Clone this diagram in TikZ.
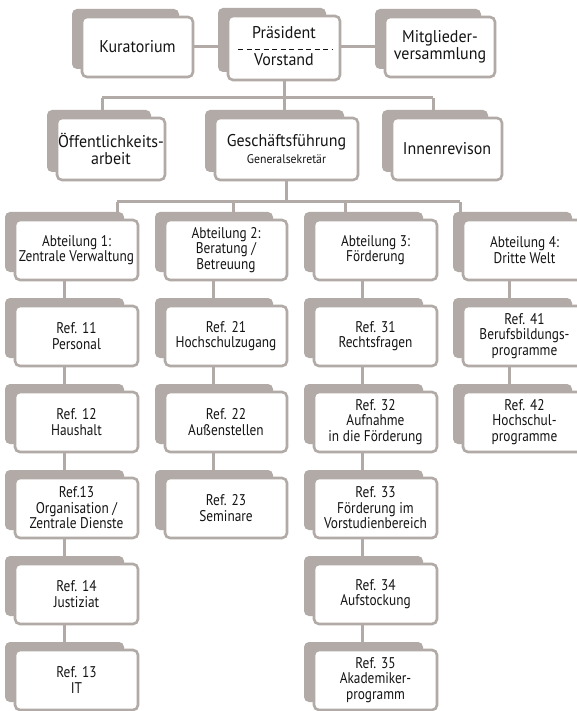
\documentclass[tikz,border=0pt]{standalone}
\usepackage{fontspec}
\setmainfont{PT Sans}
\newfontfamily\condf{PT Sans}[FakeStretch=0.86]
\newfontfamily\widef{PT Sans}[FakeStretch=0.94]
\usetikzlibrary{calc}
\definecolor{bx}{RGB}{177,170,166}
\definecolor{tx}{RGB}{20,20,20}
\pgfdeclarelayer{back}\pgfdeclarelayer{bg}\pgfsetlayers{back,bg,main}
\newcommand\lowfont{\condf\fontsize{15.5}{15.5}\selectfont}
\newcommand\topfont{\widef\fontsize{17}{17.5}\selectfont}
\newcommand\obox[7]{%
  \pgfmathsetmacro\obw{#4-#2}\pgfmathsetmacro\obh{#5-#3}%
  \pgfmathsetmacro\ocx{(#2+#4)/2}\pgfmathsetmacro\ocy{(#3+#5)/2}%
  \fill[bx,rounded corners=5pt] (#2-10,#3-8) rectangle (#4-14,#5-8);
  \node[wbox,minimum width=\obw pt,minimum height=\obh pt,font=#6] (#1) at (\ocx,\ocy) {#7};
}
\begin{document}
\begin{tikzpicture}[x=1pt,y=-1pt,
  wbox/.style={draw=bx,line width=2.6pt,fill=white,rounded corners=5pt,inner sep=0pt,align=center,text=tx},
  conn/.style={draw=bx,line width=3pt}]
\begin{pgfonlayer}{back}
\fill[white] (0,0) rectangle (577,711);
\end{pgfonlayer}
\begin{scope}[overlay]
% top row
\obox{kur}{82}{17}{193}{77}{\topfont}{Kuratorium}
\obox{pra}{228}{16}{340}{80}{\topfont}{}
\node[font=\topfont,text=tx,anchor=base] (praT) at (284,39) {Präsident};
\node[font=\topfont,text=tx,anchor=base] (praB) at (284,66) {Vorstand};
\coordinate (dashL) at (238,49);
\coordinate (dashR) at (333,49);
\draw[tx,line width=0.9pt,dash pattern=on 5pt off 3.5pt] (dashL) -- (dashR);
\obox{mit}{385}{17}{495}{77}{\topfont}{Mitglieder-\\versammlung}
% second row
\obox{oef}{57}{118}{165}{180}{\topfont}{Öffentlichkeits-\\arbeit}
\obox{ges}{215}{118}{358}{180}{\topfont}{Geschäftsführung\\[-1pt]{\widef\fontsize{12.5}{14}\selectfont Generalsekretär}}
\obox{inn}{392}{118}{502}{180}{\topfont}{Innenrevison}
% column 1
\obox{a1}{15}{220}{138}{280}{\lowfont}{Abteilung 1:\\Zentrale Verwaltung}
\obox{r11}{15}{306}{138}{366}{\lowfont}{Ref. 11\\Personal}
\obox{r12}{15}{392}{138}{452}{\lowfont}{Ref. 12\\Haushalt}
\obox{r13}{15}{478}{138}{538}{\lowfont}{Ref.13\\Organisation /\\Zentrale Dienste}
\obox{r14}{15}{564}{138}{624}{\lowfont}{Ref. 14\\Justiziat}
\obox{r15}{15}{650}{138}{710}{\lowfont}{Ref. 13\\IT}
% column 2
\obox{a2}{165}{220}{287}{280}{\lowfont}{Abteilung 2:\\Beratung /\\Betreuung}
\obox{r21}{165}{306}{287}{366}{\lowfont}{Ref. 21\\Hochschulzugang}
\obox{r22}{165}{392}{287}{452}{\lowfont}{Ref. 22\\Außenstellen}
\obox{r23}{165}{478}{287}{538}{\lowfont}{Ref. 23\\Seminare}
% column 3
\obox{a3}{314}{220}{437}{280}{\lowfont}{Abteilung 3:\\Förderung}
\obox{r31}{314}{306}{437}{366}{\lowfont}{Ref. 31\\Rechtsfragen}
\obox{r32}{314}{392}{437}{452}{\lowfont}{Ref. 32\\Aufnahme\\in die Förderung}
\obox{r33}{314}{478}{437}{538}{\lowfont}{Ref. 33\\Förderung im\\Vorstudienbereich}
\obox{r34}{314}{564}{437}{624}{\lowfont}{Ref. 34\\Aufstockung}
\obox{r35}{314}{650}{437}{710}{\lowfont}{Ref. 35\\Akademiker-\\programm}
% column 4
\obox{a4}{463}{220}{586}{280}{\lowfont}{Abteilung 4:\\Dritte Welt}
\obox{r41}{463}{306}{586}{366}{\lowfont}{Ref. 41\\Berufsbildungs-\\programme}
\obox{r42}{463}{392}{586}{452}{\lowfont}{Ref. 42\\Hochschul-\\programme}
% connectors
\begin{pgfonlayer}{bg}
\coordinate (h1a) at (102,98);
\coordinate (h1b) at (433,98);
\coordinate (h2a) at (117,202);
\coordinate (h2b) at (233,202);
\coordinate (h2c) at (345,202);
\coordinate (h2d) at (460,202);
\coordinate (c1) at (64,0);
\coordinate (c2) at (213,0);
\coordinate (c3) at (362,0);
\coordinate (c4) at (509,0);
\draw[conn] (kur.east) -- (kur.east -| pra.west);
\draw[conn] (mit.west) -- (mit.west -| pra.east);
\draw[conn] (pra.south) -- (pra.south |- ges.north);
\draw[conn] (h1a) -- (h1b);
\draw[conn] (h1a) -- (h1a |- oef.north);
\draw[conn] (h1b) -- (h1b |- inn.north);
\draw[conn] (ges.south) -- (ges.south |- h2a);
\draw[conn] (h2a) -- (h2d);
\draw[conn] (h2a) -- (h2a |- a1.north);
\draw[conn] (h2b) -- (h2b |- a2.north);
\draw[conn] (h2c) -- (h2c |- a3.north);
\draw[conn] (h2d) -- (h2d |- a4.north);
\draw[conn] (a1.south -| c1) -- (r15.north -| c1);
\draw[conn] (a2.south -| c2) -- (r23.north -| c2);
\draw[conn] (a3.south -| c3) -- (r35.north -| c3);
\draw[conn] (a4.south -| c4) -- (r42.north -| c4);
\end{pgfonlayer}
\end{scope}
\end{tikzpicture}
\end{document}
